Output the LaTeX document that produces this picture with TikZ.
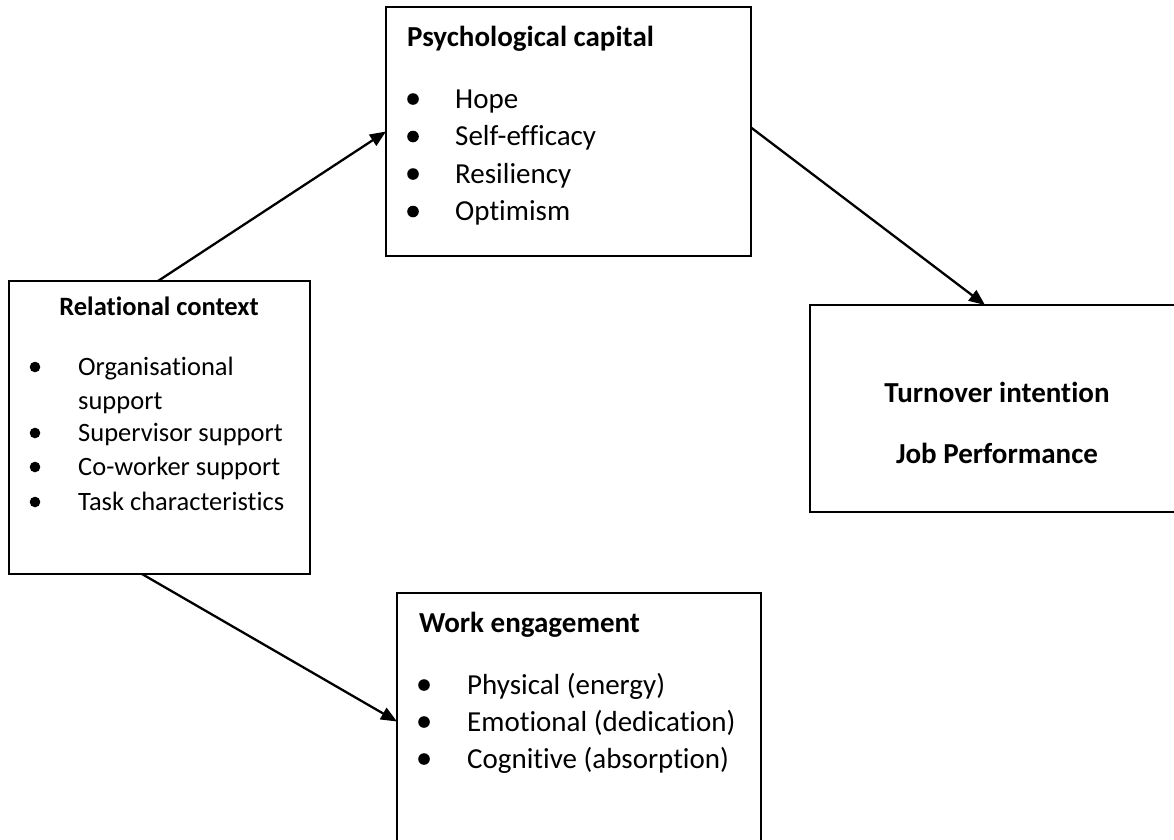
\documentclass[tikz,border=0pt]{standalone}
\usepackage{fontspec}
\setmainfont{Carlito}[Ligatures={NoCommon}]
\usetikzlibrary{arrows.meta}
\tikzset{
  box/.style={draw=black, line width=2pt, rectangle, inner sep=0pt, outer sep=0pt},
  big/.style={font=\fontsize{29}{35}\selectfont},
  bigb/.style={font=\fontsize{29}{35}\selectfont\bfseries},
  small/.style={font=\fontsize{26.5}{32}\selectfont},
  smallb/.style={font=\fontsize{26.5}{32}\selectfont\bfseries},
  txt/.style={anchor=base west, inner sep=0pt},
  ctxt/.style={anchor=base, inner sep=0pt},
  arr/.style={line width=2.3pt, -{Triangle[length=16pt,width=13pt]}},
}
\begin{document}
\begin{tikzpicture}[x=1pt,y=-1pt]
\useasboundingbox (0,0) rectangle (1174,839);
\clip (0,0) rectangle (1174,839);
\fill[white] (0,0) rectangle (1174,839);

% boxes
\node[box, minimum width=365pt, minimum height=249pt] (psy) at (568.5,131.5) {};
\node[box, minimum width=301pt, minimum height=293pt] (rel) at (159.5,427.5) {};
\node[box, minimum width=374pt, minimum height=207pt] (turn) at (997,408.5) {};
\node[box, minimum width=364pt, minimum height=257pt] (we) at (579,721.5) {};

% Psychological capital
\node[txt, bigb] (psyt) at (407,46) {Psychological capital};
\foreach \y in {99,136.5,174,211.5} \fill (413,\y) circle (5.8pt);
\node[txt, big] (p1) at (455,108) {Hope};
\node[txt, big] (p2) at (455,145.5) {Self-efficacy};
\node[txt, big] (p3) at (455,183) {Resiliency};
\node[txt, big] (p4) at (455,220.5) {Optimism};

% Relational context
\node[ctxt, smallb] (relt) at (159,315) {Relational context};
\foreach \y in {367,433,467,502} \fill (35,\y) circle (5.3pt);
\node[txt, small] (r1) at (78,375) {Organisational};
\node[txt, small] (r1b) at (78,409) {support};
\node[txt, small] (r2) at (78,441) {Supervisor support};
\node[txt, small] (r3) at (78,475) {Co-worker support};
\node[txt, small] (r4) at (78,510) {Task characteristics};

% Turnover
\node[ctxt, bigb] (t1) at (997,402) {Turnover intention};
\node[ctxt, bigb] (t2) at (997,463) {Job Performance};

% Work engagement
\node[txt, bigb] (wet) at (419,632) {Work engagement};
\foreach \y in {685,722,759} \fill (424,\y) circle (5.8pt);
\node[txt, big] (w1) at (467,694) {Physical (energy)};
\node[txt, big] (w2) at (467,731) {Emotional (dedication)};
\node[txt, big] (w3) at (467,768) {Cognitive (absorption)};

% connectors
\draw[arr] ([xshift=149pt]rel.north west) -- (psy.west);
\draw[arr] ([yshift=4pt]psy.east) -- ([xshift=-12pt]turn.north);
\draw[arr] ([xshift=133pt]rel.south west) -- (we.west);
\end{tikzpicture}
\end{document}
